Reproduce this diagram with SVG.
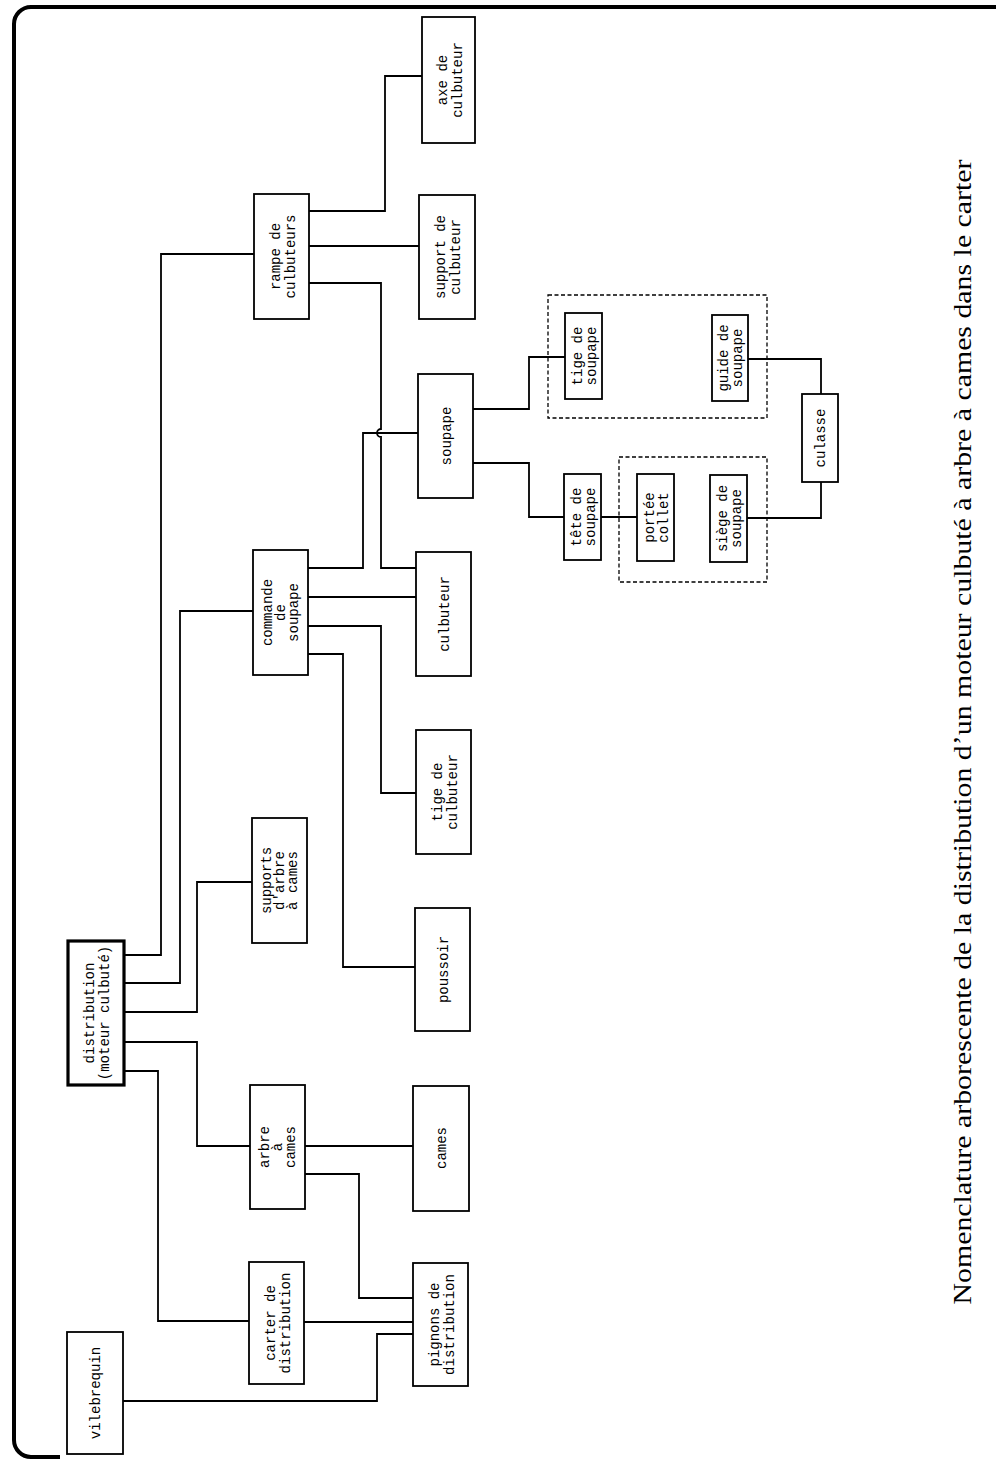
<svg xmlns="http://www.w3.org/2000/svg" width="996" height="1459" viewBox="0 0 996 1459">
<style>
.box{fill:#fff;stroke:#000;stroke-width:1.8}
.bold{stroke-width:3.2}
.dash{fill:none;stroke:#000;stroke-width:1.3;stroke-dasharray:4 2.5}
.lbl{font-family:"Liberation Mono","DejaVu Sans Mono",monospace;font-size:14px;fill:#000;text-anchor:middle}
.con path{fill:none;stroke:#000;stroke-width:1.8}
.title{font-family:"Liberation Serif","Times New Roman",serif;font-size:25px;fill:#000;text-anchor:middle}
</style>
<rect width="996" height="1459" fill="#fff"/>
<path d="M996,7 H31 A17,17 0 0 0 14,24 V1440 A17,17 0 0 0 31,1457 H60" fill="none" stroke="#000" stroke-width="4"/>

<g class="con">
<path d="M124,955 H161 V254 H254"/>
<path d="M124,983 H180 V611 H253"/>
<path d="M124,1012 H197 V882 H252"/>
<path d="M124,1042 H197 V1146 H250"/>
<path d="M124,1071 H158 V1321 H249"/>
<path d="M305,1146 H413"/>
<path d="M305,1174 H359 V1298 H413"/>
<path d="M304,1322 H413"/>
<path d="M123,1401 H377 V1334 H413"/>
<path d="M308,568 H363 V433 H418"/>
<path d="M308,597 H416"/>
<path d="M308,626 H381 V793 H416"/>
<path d="M308,654 H343 V967 H415"/>
<path d="M309,211 H385 V76 H422"/>
<path d="M309,246 H419"/>
<path d="M309,283 H381 V429 A4,4 0 0 0 381,437 V568 H416"/>
<path d="M473,409 H529 V357 H565"/>
<path d="M473,463 H529 V517 H564"/>
<path d="M601,517 H637"/>
<path d="M748,359 H821 V394"/>
<path d="M747,518 H821 V482"/>
</g>

<rect class="dash" x="548" y="295" width="219" height="123"/>
<rect class="dash" x="619" y="457" width="148" height="125"/>

<g id="vilebrequin"><rect class="box" x="67" y="1332" width="56" height="122"/>
<text class="lbl" transform="translate(95,1393) rotate(-90)" y="5">vilebrequin</text></g>

<g id="distribution"><rect class="box bold" x="68" y="941" width="56" height="144"/>
<text class="lbl" transform="translate(96,1013) rotate(-90)"><tspan x="0" y="-2">distribution</tspan><tspan x="0" y="13">(moteur culbuté)</tspan></text></g>

<g id="arbre-a-cames"><rect class="box" x="250" y="1085" width="55" height="124"/>
<text class="lbl" transform="translate(277.5,1147) rotate(-90)"><tspan x="0" y="-9">arbre</tspan><tspan x="0" y="4">à</tspan><tspan x="0" y="17">cames</tspan></text></g>

<g id="cames"><rect class="box" x="413" y="1086" width="56" height="125"/>
<text class="lbl" transform="translate(441,1148) rotate(-90)" y="5">cames</text></g>

<g id="carter-de-distribution"><rect class="box" x="249" y="1262" width="55" height="122"/>
<text class="lbl" transform="translate(276.5,1323) rotate(-90)"><tspan x="0" y="-2">carter de</tspan><tspan x="0" y="13">distribution</tspan></text></g>

<g id="pignons-de-distribution"><rect class="box" x="413" y="1263" width="55" height="123"/>
<text class="lbl" transform="translate(440.5,1324.5) rotate(-90)"><tspan x="0" y="-2">pignons de</tspan><tspan x="0" y="13">distribution</tspan></text></g>

<g id="poussoir"><rect class="box" x="415" y="908" width="55" height="123"/>
<text class="lbl" transform="translate(442.5,969.5) rotate(-90)" y="5">poussoir</text></g>

<g id="supports-arbre"><rect class="box" x="252" y="818" width="55" height="125"/>
<text class="lbl" transform="translate(279.5,880.5) rotate(-90)"><tspan x="0" y="-9">supports</tspan><tspan x="0" y="4">d'arbre</tspan><tspan x="0" y="17">à cames</tspan></text></g>

<g id="tige-de-culbuteur"><rect class="box" x="416" y="730" width="55" height="124"/>
<text class="lbl" transform="translate(443.5,792) rotate(-90)"><tspan x="0" y="-2">tige de</tspan><tspan x="0" y="13">culbuteur</tspan></text></g>

<g id="culbuteur"><rect class="box" x="416" y="552" width="55" height="124"/>
<text class="lbl" transform="translate(443.5,614) rotate(-90)" y="5">culbuteur</text></g>

<g id="commande-de-soupape"><rect class="box" x="253" y="550" width="55" height="125"/>
<text class="lbl" transform="translate(280.5,612.5) rotate(-90)"><tspan x="0" y="-9">commande</tspan><tspan x="0" y="4">de</tspan><tspan x="0" y="17">soupape</tspan></text></g>

<g id="soupape"><rect class="box" x="418" y="374" width="55" height="124"/>
<text class="lbl" transform="translate(445.5,436) rotate(-90)" y="5">soupape</text></g>

<g id="rampe-de-culbuteurs"><rect class="box" x="254" y="194" width="55" height="125"/>
<text class="lbl" transform="translate(281.5,256.5) rotate(-90)"><tspan x="0" y="-2">rampe de</tspan><tspan x="0" y="13">culbuteurs</tspan></text></g>

<g id="support-de-culbuteur"><rect class="box" x="419" y="195" width="56" height="124"/>
<text class="lbl" transform="translate(447,257) rotate(-90)"><tspan x="0" y="-2">support de</tspan><tspan x="0" y="13">culbuteur</tspan></text></g>

<g id="axe-de-culbuteur"><rect class="box" x="422" y="17" width="53" height="126"/>
<text class="lbl" transform="translate(448.5,80) rotate(-90)"><tspan x="0" y="-2">axe de</tspan><tspan x="0" y="13">culbuteur</tspan></text></g>

<g id="tige-de-soupape"><rect class="box" x="565" y="313" width="37" height="86"/>
<text class="lbl" transform="translate(583.5,356) rotate(-90)"><tspan x="0" y="-2">tige de</tspan><tspan x="0" y="12">soupape</tspan></text></g>

<g id="guide-de-soupape"><rect class="box" x="712" y="315" width="36" height="86"/>
<text class="lbl" transform="translate(730,358) rotate(-90)"><tspan x="0" y="-2">guide de</tspan><tspan x="0" y="12">soupape</tspan></text></g>

<g id="tete-de-soupape"><rect class="box" x="564" y="474" width="37" height="86"/>
<text class="lbl" transform="translate(582.5,517) rotate(-90)"><tspan x="0" y="-2">tête de</tspan><tspan x="0" y="12">soupape</tspan></text></g>

<g id="portee-collet"><rect class="box" x="637" y="474" width="37" height="87"/>
<text class="lbl" transform="translate(655.5,517.5) rotate(-90)"><tspan x="0" y="-2">portée</tspan><tspan x="0" y="12">collet</tspan></text></g>

<g id="siege-de-soupape"><rect class="box" x="710" y="475" width="37" height="87"/>
<text class="lbl" transform="translate(728.5,518.5) rotate(-90)"><tspan x="0" y="-2">siège de</tspan><tspan x="0" y="12">soupape</tspan></text></g>

<g id="culasse"><rect class="box" x="802" y="394" width="36" height="88"/>
<text class="lbl" transform="translate(820,438) rotate(-90)" y="5">culasse</text></g>

<text class="title" transform="translate(971,732) rotate(-90)" textLength="1145" lengthAdjust="spacingAndGlyphs">Nomenclature arborescente de la distribution d’un moteur culbuté à arbre à cames dans le carter</text>
</svg>
